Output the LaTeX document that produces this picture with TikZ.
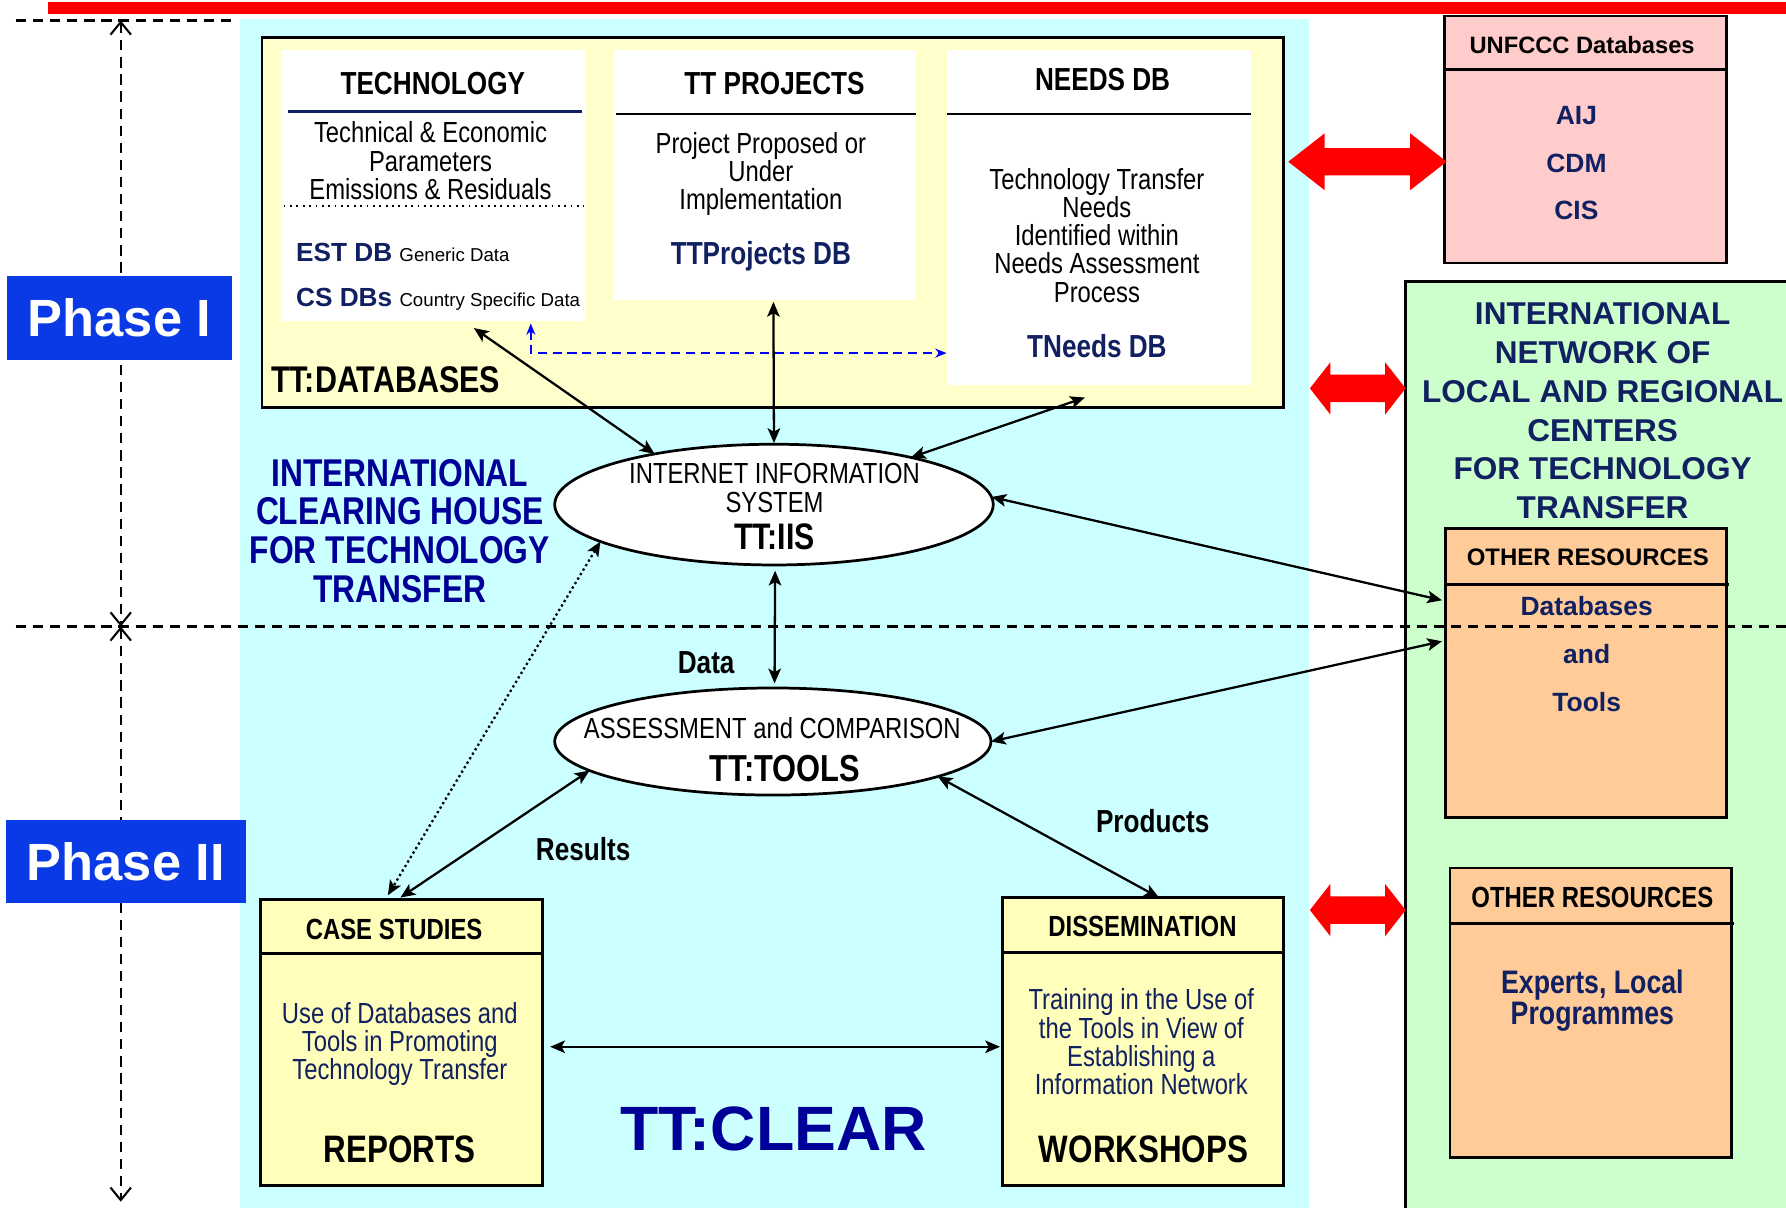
\documentclass[tikz,border=0pt]{standalone}
\usepackage{fontspec}
\setmainfont{Liberation Sans}
\newfontfamily\nar[FakeStretch=0.82]{Liberation Sans}
\usetikzlibrary{arrows.meta,calc,shapes.geometric}
\definecolor{cyanbg}{RGB}{204,255,255}
\definecolor{ylw}{RGB}{255,255,204}
\definecolor{ylwb}{RGB}{255,255,187}
\definecolor{pinkbg}{RGB}{255,204,204}
\definecolor{greenbg}{RGB}{204,255,204}
\definecolor{orangebg}{RGB}{255,204,153}
\definecolor{navy}{RGB}{16,32,96}
\definecolor{ichblue}{RGB}{0,0,153}
\definecolor{phaseblue}{RGB}{10,58,230}
\newcommand\dblarrowshape[6]{%
  \fill[red] (#1,#3) -- (#1+#4,#3-#5) -- (#1+#4,#3-#6) -- (#2-#4,#3-#6) -- (#2-#4,#3-#5) -- (#2,#3)
    -- (#2-#4,#3+#5) -- (#2-#4,#3+#6) -- (#1+#4,#3+#6) -- (#1+#4,#3+#5) -- cycle;}
\begin{document}
\begin{tikzpicture}[x=0.5pt,y=-0.5pt,
  every node/.style={inner sep=0pt, outer sep=0pt, text depth=0pt},
  box/.style={draw=black, line width=1.2pt, rectangle},
  wbox/.style={fill=white, rectangle},
  hdr/.style={font=\nar\bfseries\fontsize{14}{16}\selectfont},
  hdrs/.style={font=\nar\bfseries\fontsize{12.8}{15}\selectfont},
  bodyk/.style={font=\nar\fontsize{12.75}{12.4}\selectfont, align=center},
  bodyn/.style={font=\nar\fontsize{12.75}{12.4}\selectfont, align=center, text=navy},
  dbname/.style={font=\nar\bfseries\fontsize{14}{16}\selectfont, text=navy},
  bigk/.style={font=\nar\bfseries\fontsize{16.8}{19}\selectfont},
  lbl/.style={font=\nar\bfseries\fontsize{14}{16}\selectfont},
  itm/.style={font=\bfseries\fontsize{11.6}{14}\selectfont, text=navy},
  rule/.style={line width=1.2pt},
  conn/.style={line width=1pt, arrows={Stealth[length=6.5pt,width=5.5pt,inset=1.5pt]-Stealth[length=6.5pt,width=5.5pt,inset=1.5pt]}},
  dconn/.style={line width=1pt, dash pattern=on 1pt off 1.3pt, arrows={Stealth[length=6.5pt,width=5.5pt,inset=1.5pt]-Stealth[length=6.5pt,width=5.5pt,inset=1.5pt]}},
  bconn/.style={line width=0.7pt, blue, dash pattern=on 4pt off 2.5pt, arrows={Stealth[length=5pt,width=4pt]-Stealth[length=5pt,width=4pt]}},
  phasearr/.style={line width=0.9pt, dash pattern=on 4.5pt off 3pt, arrows={Straight Barb[length=5.5pt,width=9pt]-Straight Barb[length=5.5pt,width=9pt]}},
  dline/.style={line width=0.9pt, dash pattern=on 4.5pt off 3pt},
  phase/.style={fill=phaseblue, text=white, font=\bfseries\fontsize{23}{26}\selectfont}
]
\useasboundingbox (0,0) rectangle (1568,1060);
\clip (0,0) rectangle (1568,1060);
\fill[white] (0,0) rectangle (1568,1060);

% backgrounds
\node[rectangle, fill=cyanbg, minimum width=469pt, minimum height=526pt] (cyan) at (680,543) {};
\fill[red] (42,2) rectangle (1568,12);

% boxes
\node[box, fill=greenbg, minimum width=178pt, minimum height=416.5pt] (green) at (1412,663.5) {};
\node[box, fill=pinkbg, minimum width=124pt, minimum height=108.5pt] (unf) at (1392,122.5) {};
\node[box, fill=ylw, line width=1.3pt, minimum width=448.5pt, minimum height=162.5pt] (dbbox) at (678.5,195.5) {};
\node[wbox, minimum width=133pt, minimum height=119pt] (tech) at (381,163) {};
\node[wbox, minimum width=133pt, minimum height=109.5pt] (ttp) at (671,153.5) {};
\node[wbox, minimum width=133.5pt, minimum height=147pt] (needs) at (964.5,191) {};
\node[box, fill=orangebg, minimum width=123.5pt, minimum height=127pt] (ores1) at (1392.5,591) {};
\node[box, fill=orangebg, minimum width=123.5pt, minimum height=127pt] (ores2) at (1396.5,889) {};
\node[box, fill=ylwb, minimum width=123.5pt, minimum height=125.5pt] (case) at (352.5,915.5) {};
\node[box, fill=ylwb, minimum width=123.5pt, minimum height=126.5pt] (diss) at (1003.5,914.5) {};
\node[ellipse, draw=black, fill=white, line width=1.2pt, minimum width=192.5pt, minimum height=53pt] (iis) at (679.5,443) {};
\node[ellipse, draw=black, fill=white, line width=1.2pt, minimum width=191.5pt, minimum height=47pt] (tools) at (678.5,651) {};

% rules inside boxes
\draw[rule] (1268,61) -- (1516,61);
\draw[line width=1.3pt, navy] (253,98) -- (511,98);
\draw[dotted, line width=0.8pt] (249,181) -- (513,181);
\draw[rule] (541,100) -- (804,100);
\draw[rule] (831,100) -- (1098,100);
\draw[rule] (1269,513) -- (1518,513);
\draw[rule] (1273,811) -- (1522,811);
\draw[rule] (229,837) -- (478,837);
\draw[rule] (880,836) -- (1127,836);

% phase guides
\draw[dline] (14,18) -- (205,18);
\draw[dline] (14,550) -- (1568,550);
\coordinate (vtop) at (106,18);
\coordinate (vmid) at (106,550);
\coordinate (vbot) at (106,1055);
\draw[phasearr] (vtop) -- (vmid);
\draw[phasearr] (vmid) -- (vbot);
\node[phase, minimum width=99pt, minimum height=37pt] (ph1) at (105,279) {Phase I};
\node[phase, minimum width=105.5pt, minimum height=36.5pt] (ph2) at (110.5,756.5) {Phase II};

% connectors
\draw[conn] ($(tech.south)+(35,6)$) -- (iis.157);
\draw[conn] ($(ttp.south)+(8,2)$) -- ($(iis.north)+(0,-1)$);
\draw[conn] ($(needs.south)+(-12,11)$) -- (iis.19);
\draw[bconn] ($(tech.south)+(85,2)$) |- ($(needs.south west)+(0,-28)$);
\draw[conn] (iis.2) -- ($(ores1.north west)+(-3,63)$);
\draw[conn] ($(iis.south)+(1,5)$) -- ($(tools.north)+(1.5,-4)$);
\draw[conn] (tools.east) -- ($(ores1.north west)+(-3,99)$);
\draw[dconn] (iis.192) -- ($(case.north)+(-12,-4)$);
\draw[conn] (tools.189) -- ($(case.north)+(-1,-2)$);
\draw[conn] (tools.-12) -- ($(diss.north)+(14,0)$);
\draw[conn] ($(case.east)+(7,3.5)$) -- ($(diss.west)+(-2,4.5)$);

% red double arrows
\dblarrowshape{1131}{1270}{142}{32}{25}{12}
\dblarrowshape{1150}{1234}{341}{18}{23}{12}
\dblarrowshape{1150}{1234}{799}{18}{23}{12}

% texts: databases
\node[hdr] (techT) at (380,73) {TECHNOLOGY};
\node[bodyk] (techB) at (378,141) {Technical \& Economic\\Parameters\\Emissions \& Residuals};
\node[anchor=base west, font=\bfseries\fontsize{11.5}{14}\selectfont] (estdb) at (260,230) {\textcolor{navy}{EST DB} {\mdseries\fontsize{8.2}{10}\selectfont Generic Data}};
\node[anchor=base west, font=\bfseries\fontsize{11.5}{14}\selectfont] (csdb) at (260,269) {\textcolor{navy}{CS DBs} {\mdseries\fontsize{8.2}{10}\selectfont Country Specific Data}};
\node[hdr] (ttpT) at (680,73) {TT PROJECTS};
\node[bodyk] (ttpB) at (668,150) {Project Proposed or\\Under\\Implementation};
\node[dbname] (ttpN) at (668,222) {TTProjects DB};
\node[hdr] (needsT) at (968,70) {NEEDS DB};
\node[bodyk] (needsB) at (963,206.5) {Technology Transfer\\Needs\\Identified within\\Needs Assessment\\Process};
\node[dbname] (needsN) at (963,304) {TNeeds DB};
\node[anchor=west, font=\nar\bfseries\fontsize{16.3}{19}\selectfont] (dblbl) at (238,333) {TT:DATABASES};

% UNFCCC
\node[font=\bfseries\fontsize{10.4}{12}\selectfont] (unfT) at (1389,39) {UNFCCC Databases};
\node[itm] (aij) at (1384,101) {AIJ};
\node[itm] (cdm) at (1384,143) {CDM};
\node[itm] (cis) at (1384,185) {CIS};

% green
\node[font=\bfseries\fontsize{13.85}{17}\selectfont, text=navy, align=center] (greenT) at (1407,360.5) {INTERNATIONAL\\NETWORK OF\\LOCAL AND REGIONAL\\CENTERS\\FOR TECHNOLOGY\\TRANSFER};
\node[font=\bfseries\fontsize{10.5}{12}\selectfont] (or1T) at (1394,489) {OTHER RESOURCES};
\node[itm] (or1a) at (1393,532) {Databases};
\node[itm] (or1b) at (1393,574) {and};
\node[itm] (or1c) at (1393,616) {Tools};
\node[hdrs] (or2T) at (1398,788) {OTHER RESOURCES};
\node[font=\nar\bfseries\fontsize{14.3}{13.5}\selectfont, text=navy, align=center] (or2B) at (1398,875.5) {Experts, Local\\Programmes};

% clearing house
\node[font=\nar\bfseries\fontsize{17}{17}\selectfont, text=ichblue, align=center] (ich) at (351,466) {INTERNATIONAL\\CLEARING HOUSE\\FOR TECHNOLOGY\\TRANSFER};

% ellipses text
\node[bodyk] (iis1) at (680,416) {INTERNET INFORMATION};
\node[bodyk] (iis2) at (680,441) {SYSTEM};
\node[font=\nar\bfseries\fontsize{16.2}{19}\selectfont] (iis3) at (680,471) {TT:IIS};
\node[bodyk] (tools1) at (678,639) {ASSESSMENT and COMPARISON};
\node[font=\nar\bfseries\fontsize{16.5}{19}\selectfont] (tools2) at (689,675) {TT:TOOLS};

% labels
\node[lbl] (ldata) at (620,582) {Data};
\node[lbl] (lres) at (512,745) {Results};
\node[lbl] (lprod) at (1012,721) {Products};

% case / dissemination
\node[hdrs] (caseT) at (346,816) {CASE STUDIES};
\node[bodyn] (caseB) at (351,914) {Use of Databases and\\Tools in Promoting\\Technology Transfer};
\node[bigk] (caseR) at (351,1009) {REPORTS};
\node[hdrs] (dissT) at (1003,813) {DISSEMINATION};
\node[bodyn] (dissB) at (1002,914.5) {Training in the Use of\\the Tools in View of\\Establishing a\\Information Network};
\node[bigk] (dissW) at (1004,1009) {WORKSHOPS};

\node[font=\bfseries\fontsize{27.5}{30}\selectfont, text=ichblue] (clear) at (679,991) {TT:CLEAR};
\end{tikzpicture}
\end{document}
